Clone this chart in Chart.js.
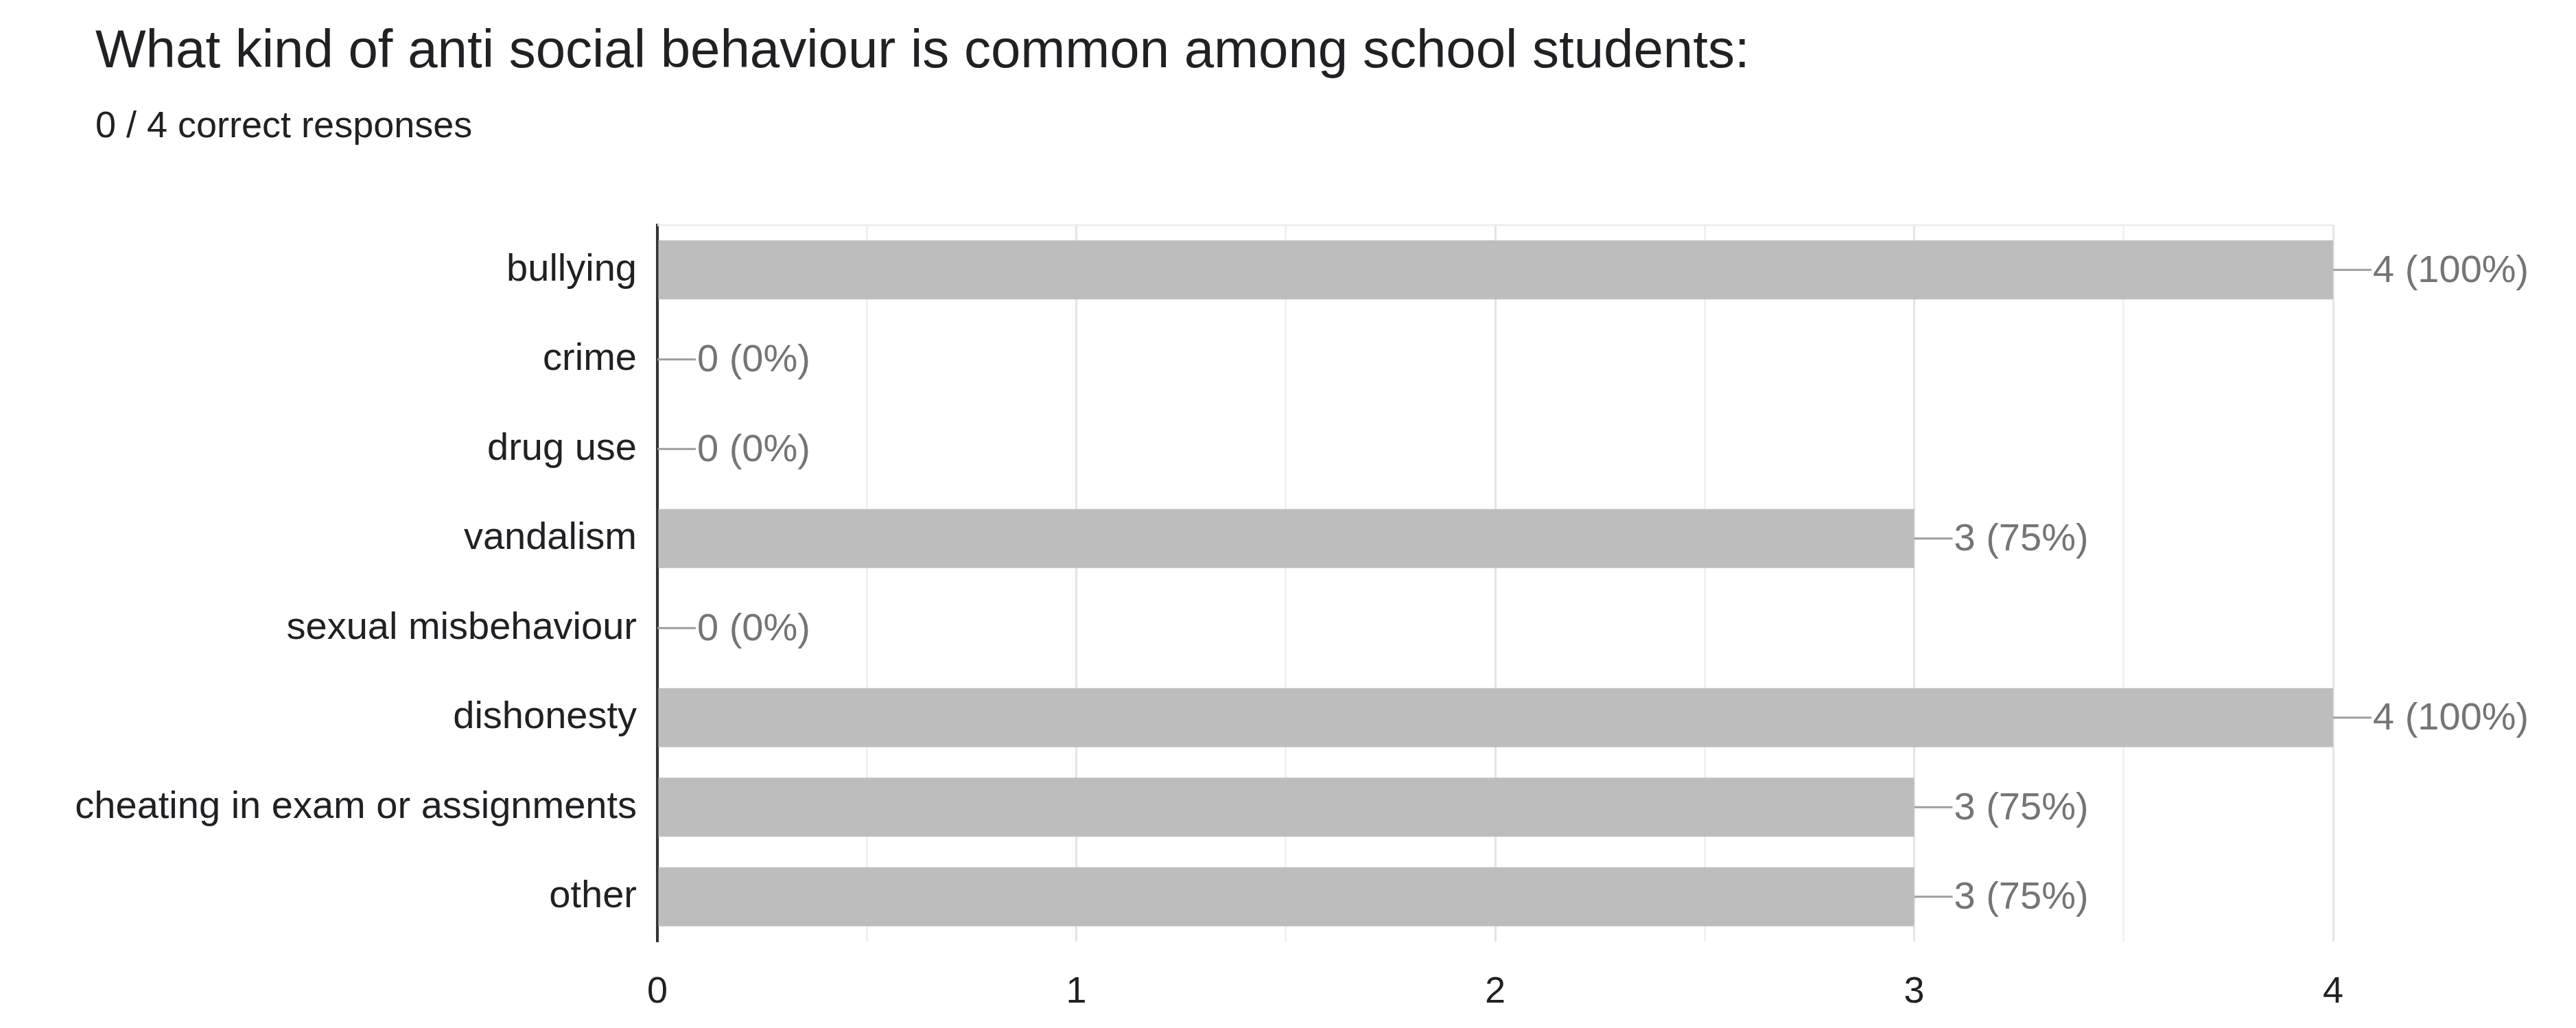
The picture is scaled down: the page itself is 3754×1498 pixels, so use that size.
<!DOCTYPE html>
<html>
<head>
<meta charset="utf-8">
<script src="https://cdn.jsdelivr.net/npm/chart.js@4"></script>
<style>
  html, body { margin: 0; padding: 0; background: #fff; }
  #wrap { position: relative; width: 3754px; height: 1498px; font-family: "Liberation Sans", Arial, sans-serif; }
  #title { position: absolute; left: 139px; top: 26px; font-size: 78px; color: #202124; white-space: nowrap; }
  #sub { position: absolute; left: 139px; top: 150px; font-size: 54px; color: #202124; white-space: nowrap; }
  canvas { position: absolute; left: 0; top: 0; }
</style>
</head>
<body>
<div id="wrap">
  <div id="title">What kind of anti social behaviour is common among school students:</div>
  <div id="sub">0 / 4 correct responses</div>
  <canvas id="c" width="3754" height="1498"></canvas>
</div>
<script>
const categories = ['bullying', 'crime', 'drug use', 'vandalism', 'sexual misbehaviour', 'dishonesty', 'cheating in exam or assignments', 'other'];
const counts = [4, 0, 0, 3, 0, 4, 3, 3];
const percents = ['100%', '0%', '0%', '75%', '0%', '100%', '75%', '75%'];
const xTicks = [0, 1, 2, 3, 4];
const FONT = '"Liberation Sans", Arial, sans-serif';

const labelPlugin = {
  id: 'barLabels',
  afterDatasetsDraw(chart) {
    const ctx = chart.ctx;
    const xs = chart.scales.x;
    const area = chart.chartArea;
    ctx.save();
    ctx.strokeStyle = '#eeeeee';
    ctx.lineWidth = 3;
    ctx.beginPath();
    ctx.moveTo(area.left, area.top);
    ctx.lineTo(area.right, area.top);
    ctx.stroke();
    chart.getDatasetMeta(0).data.forEach((bar, i) => {
      const x0 = xs.getPixelForValue(counts[i]);
      const y = bar.y;
      ctx.strokeStyle = '#9e9e9e';
      ctx.lineWidth = 3;
      ctx.beginPath();
      ctx.moveTo(x0, y);
      ctx.lineTo(x0 + 56, y);
      ctx.stroke();
      ctx.fillStyle = '#757575';
      ctx.font = '56px ' + FONT;
      ctx.textAlign = 'left';
      ctx.textBaseline = 'middle';
      ctx.fillText(counts[i] + ' (' + percents[i] + ')', x0 + 58, y + 2);
    });
    ctx.restore();
  }
};

new Chart(document.getElementById('c'), {
  type: 'bar',
  data: {
    labels: categories,
    datasets: [{
      data: counts,
      backgroundColor: '#bdbdbd',
      barPercentage: 0.66,
      categoryPercentage: 1
    }]
  },
  plugins: [labelPlugin],
  options: {
    indexAxis: 'y',
    responsive: false,
    animation: false,
    layout: { padding: { top: 328, right: 354, bottom: 0, left: 0 } },
    plugins: { legend: { display: false }, tooltip: { enabled: false } },
    scales: {
      x: {
        min: 0,
        max: 4,
        afterFit: s => { s.height = 126; },
        afterBuildTicks: s => {
          const t = [];
          for (let v = 0; v <= 8; v++) t.push({ value: v / 2 });
          s.ticks = t;
        },
        border: { display: false },
        grid: {
          color: c => (c.tick && Number.isInteger(c.tick.value)) ? '#e4e4e4' : '#f1f1f1',
          lineWidth: 3,
          drawTicks: false
        },
        ticks: {
          padding: 42,
          color: '#202124',
          font: { size: 54, family: FONT }
        ,
          callback: v => xTicks.includes(v) ? String(v) : ''
        }
      },
      y: {
        afterFit: s => { s.width = 958; },
        border: { display: true, color: '#333333', width: 4 },
        grid: { display: false },
        ticks: {
          padding: 22,
          color: '#202124',
          font: { size: 56, family: FONT }
        }
      }
    }
  }
});
</script>
</body>
</html>
